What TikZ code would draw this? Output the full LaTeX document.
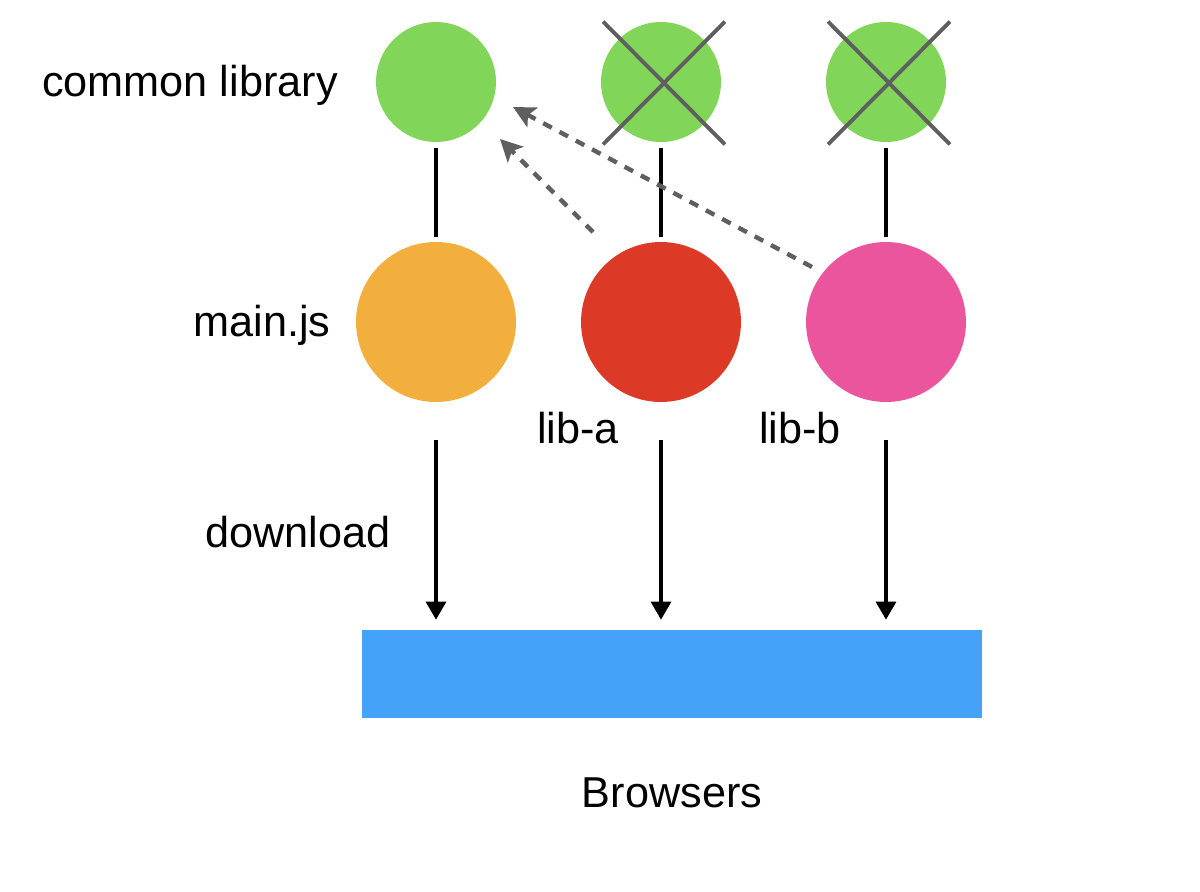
\documentclass[tikz,border=0pt]{standalone}
\usepackage{fontspec}
\setmainfont{Liberation Sans}
\usepackage{xcolor}
\usetikzlibrary{shapes.misc, arrows.meta, positioning, calc}
\definecolor{libgreen}{HTML}{81D65A}
\definecolor{mainorange}{HTML}{F2AF3D}
\definecolor{libred}{HTML}{DC3A26}
\definecolor{libpink}{HTML}{EA559E}
\definecolor{browserblue}{HTML}{44A2F8}
\definecolor{dashgray}{HTML}{5F5F5F}
\tikzset{
  common/.style={circle, fill=libgreen, minimum size=2.4cm, inner sep=0pt},
  bundle/.style={circle, minimum size=3.2cm, inner sep=0pt},
  crossed/.style={cross out, draw=dashgray, line width=2.2pt,
                  minimum width=2.36cm, minimum height=2.38cm, inner sep=0pt},
  lbl/.style={font=\fontsize{24.6}{30}\selectfont, inner sep=0pt},
  link/.style={line width=2.1pt, shorten <=0.12cm, shorten >=0.1cm},
  dl/.style={-{Triangle[length=0.36cm, width=0.4cm]}, line width=1.8pt},
  reuse/.style={-{Stealth[length=0.44cm, width=0.44cm, inset=0.1cm]},
                draw=dashgray, line width=2.5pt, dash pattern=on 5.5pt off 5pt}
}
\begin{document}
\begin{tikzpicture}[x=0.02cm, y=-0.02cm]
  \useasboundingbox (0,0) rectangle (1200,892);

  % common library copies
  \node[common] (com) at (436,82) {};
  \node[common] (coma) at (661,82) {};
  \node[common] (comb) at (886,82) {};
  \node[crossed] (xa) at (664,83) {};
  \node[crossed] (xb) at (889,83) {};

  % bundles
  \node[bundle, fill=mainorange] (main) at (436,322) {};
  \node[bundle, fill=libred] (liba) at (661,322) {};
  \node[bundle, fill=libpink] (libb) at (886,322) {};

  % browsers
  \node[fill=browserblue, minimum width=12.4cm, minimum height=1.76cm,
        inner sep=0pt] (browser) at (672,674) {};

  % labels
  \node[lbl] (comlbl) at (190,85) {common library};
  \node[lbl] (mainlbl) at (262,325) {main.js};
  \node[lbl] (libalbl) at (578,428) {lib-a};
  \node[lbl] (libblbl) at (800,428) {lib-b};
  \node[lbl] (dllbl) at (298,532) {download};
  \node[lbl] (brlbl) at (672,793) {Browsers};

  % links
  \draw[link] (com) -- (main);
  \draw[link] (coma) -- (liba);
  \draw[link] (comb) -- (libb);

  % downloads
  \draw[dl, shorten <=0.76cm, shorten >=0.2cm] (main) -- (main |- browser.north);
  \draw[dl, shorten <=0.76cm, shorten >=0.2cm] (liba) -- (liba |- browser.north);
  \draw[dl, shorten <=0.76cm, shorten >=0.2cm] (libb) -- (libb |- browser.north);

  % shared library reuse
  \coordinate (atail) at ($(liba)+(-68,-90)$);
  \coordinate (ahead) at ($(com)+(64,57)$);
  \coordinate (btail) at ($(libb)+(-74,-55)$);
  \coordinate (bhead) at ($(com)+(77,25)$);
  \draw[reuse] (atail) -- (ahead);
  \draw[reuse] (btail) -- (bhead);
\end{tikzpicture}
\end{document}
